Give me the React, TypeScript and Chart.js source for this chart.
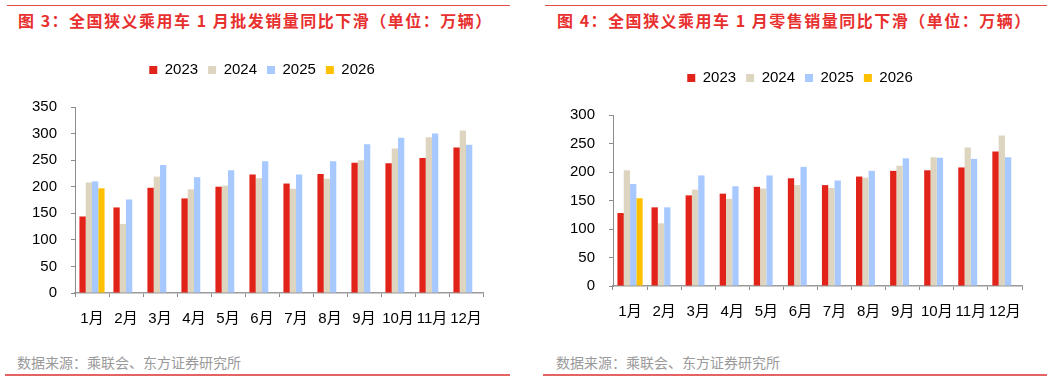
import React, { useEffect, useRef } from "react";
import { Chart, registerables } from "chart.js";

Chart.register(...registerables);

// ---------- data ----------
const months = ["1月", "2月", "3月", "4月", "5月", "6月", "7月", "8月", "9月", "10月", "11月", "12月"];
const years = ["2023", "2024", "2025", "2026"];
const yearColors = ["#E2231A", "#DDD5BF", "#A8C9FF", "#FFC000"];

// wholesale (批发), 万辆
const wholesale2023 = [144, 161, 198, 178, 200, 223, 206, 224, 245, 244, 254, 274];
const wholesale2024 = [208, 130, 219, 195, 202, 216, 196, 215, 250, 272, 293, 306];
const wholesale2025 = [210, 176, 241, 218, 231, 248, 223, 248, 280, 292, 300, 279];
const wholesale2026 = [197, null, null, null, null, null, null, null, null, null, null, null];

// retail (零售), 万辆
const retail2023 = [128, 138, 159, 162, 174, 189, 177, 192, 202, 203, 208, 236];
const retail2024 = [203, 110, 169, 153, 171, 177, 172, 190, 211, 226, 243, 264];
const retail2025 = [179, 138, 194, 175, 194, 209, 185, 202, 224, 225, 223, 226];
const retail2026 = [154, null, null, null, null, null, null, null, null, null, null, null];

const wholesaleTicks = { max: 350, step: 50 };
const retailTicks = { max: 300, step: 50 };

const title3 = "图 3：全国狭义乘用车 1 月批发销量同比下滑（单位：万辆）";
const title4 = "图 4：全国狭义乘用车 1 月零售销量同比下滑（单位：万辆）";
const sourceText = "数据来源：乘联会、东方证券研究所";

const FONT = "'Liberation Sans', 'Noto Sans CJK SC', Arial, sans-serif";

type Panel = {
  series: (number | null)[][];
  max: number;
  step: number;
  padTop: number;
  yWidth: number;
  legendHeight: number;
  legendShift: number;
};

function BarChart({ p, width, height }: { p: Panel; width: number; height: number }) {
  const ref = useRef<HTMLCanvasElement | null>(null);
  useEffect(() => {
    if (!ref.current) return;
    const legendFix = {
      id: "legendFix",
      beforeLayout(chart: any) {
        const lg = chart.legend;
        if (lg && !lg.__patched) {
          lg.__patched = true;
          const origFit = lg.fit;
          lg.fit = function () {
            origFit.call(this);
            this.height = p.legendHeight;
          };
        }
      },
      afterLayout(chart: any) {
        if (chart.legend) {
          chart.legend.left += p.legendShift;
          chart.legend.right += p.legendShift;
        }
      },
    };
    const chart = new Chart(ref.current, {
      type: "bar",
      data: {
        labels: months,
        datasets: p.series.map((s, i) => ({
          label: years[i],
          data: s,
          backgroundColor: yearColors[i],
          borderWidth: 0,
          categoryPercentage: 0.74,
          barPercentage: 1,
        })),
      },
      options: {
        animation: false,
        responsive: false,
        devicePixelRatio: 1,
        layout: { padding: { left: 0, right: 17, top: p.padTop, bottom: 0 } },
        plugins: {
          tooltip: { enabled: false },
          legend: {
            display: true,
            position: "top",
            labels: {
              boxWidth: 8,
              boxHeight: 8,
              padding: 10,
              color: "#000",
              font: { family: FONT, size: 15 },
            },
          },
        },
        scales: {
          x: {
            afterFit(scale: any) {
              scale.height = 40;
            },
            grid: {
              display: true,
              drawOnChartArea: false,
              drawTicks: true,
              tickLength: 4,
              color: "#8c8c8c",
              offset: true,
            },
            border: { display: true, color: "#9a9a9a", width: 1.5 },
            ticks: {
              color: "#000",
              font: { family: FONT, size: 15 },
              padding: 13,
              maxRotation: 0,
              minRotation: 0,
              autoSkip: false,
            },
          },
          y: {
            min: 0,
            max: p.max,
            afterFit(scale: any) {
              scale.width = p.yWidth;
            },
            grid: {
              display: true,
              drawOnChartArea: false,
              drawTicks: true,
              tickLength: 4,
              color: "#8c8c8c",
            },
            border: { display: true, color: "#8c8c8c", width: 1 },
            ticks: {
              stepSize: p.step,
              color: "#000",
              font: { family: FONT, size: 15 },
              padding: 14,
            },
          },
        },
      },
      plugins: [legendFix],
    });
    return () => chart.destroy();
  }, []);
  return <canvas ref={ref} width={width} height={height} style={{ width, height, display: "block" }} />;
}

const wholesalePanel: Panel = {
  series: [wholesale2023, wholesale2024, wholesale2025, wholesale2026],
  max: wholesaleTicks.max,
  step: wholesaleTicks.step,
  padTop: 7.5,
  yWidth: 75,
  legendHeight: 54.5,
  legendShift: 20.5,
};

const retailPanel: Panel = {
  series: [retail2023, retail2024, retail2025, retail2026],
  max: retailTicks.max,
  step: retailTicks.step,
  padTop: 15.5,
  yWidth: 75,
  legendHeight: 54.5,
  legendShift: 20,
};

const titleStyle: React.CSSProperties = {
  position: "absolute",
  top: 10,
  fontFamily: "'Noto Sans CJK SC', sans-serif",
  fontWeight: 700,
  fontSize: 16,
  lineHeight: "20px",
  letterSpacing: 1.5,
  color: "#E8302F",
  whiteSpace: "nowrap",
};

const footStyle: React.CSSProperties = {
  position: "absolute",
  top: 352,
  fontFamily: "'Noto Sans CJK SC', sans-serif",
  fontSize: 14,
  lineHeight: "20px",
  color: "#9a9a9a",
  whiteSpace: "nowrap",
};

export default function App() {
  return (
    <div
      style={{
        position: "fixed",
        left: 0,
        top: 0,
        width: 1061,
        height: 381,
        background: "#fff",
        overflow: "hidden",
      }}
    >
      {/* left panel */}
      <div style={{ position: "absolute", left: 7, top: 5, width: 503, height: 1, background: "#E54B4B" }} />
      <div style={{ ...titleStyle, left: 18 }}>{title3}</div>
      <div style={{ position: "absolute", left: 0, top: 45 }}>
        <BarChart p={wholesalePanel} width={500} height={288} />
      </div>
      <div style={{ ...footStyle, left: 17 }}>{sourceText}</div>
      <div style={{ position: "absolute", left: 5, top: 374, width: 505, height: 2, background: "#E46464" }} />

      {/* right panel */}
      <div style={{ position: "absolute", left: 545, top: 5, width: 502, height: 1, background: "#E54B4B" }} />
      <div style={{ ...titleStyle, left: 557 }}>{title4}</div>
      <div style={{ position: "absolute", left: 538, top: 45 }}>
        <BarChart p={retailPanel} width={501} height={281} />
      </div>
      <div style={{ ...footStyle, left: 556 }}>{sourceText}</div>
      <div style={{ position: "absolute", left: 543, top: 374, width: 504, height: 2, background: "#E46464" }} />
    </div>
  );
}
